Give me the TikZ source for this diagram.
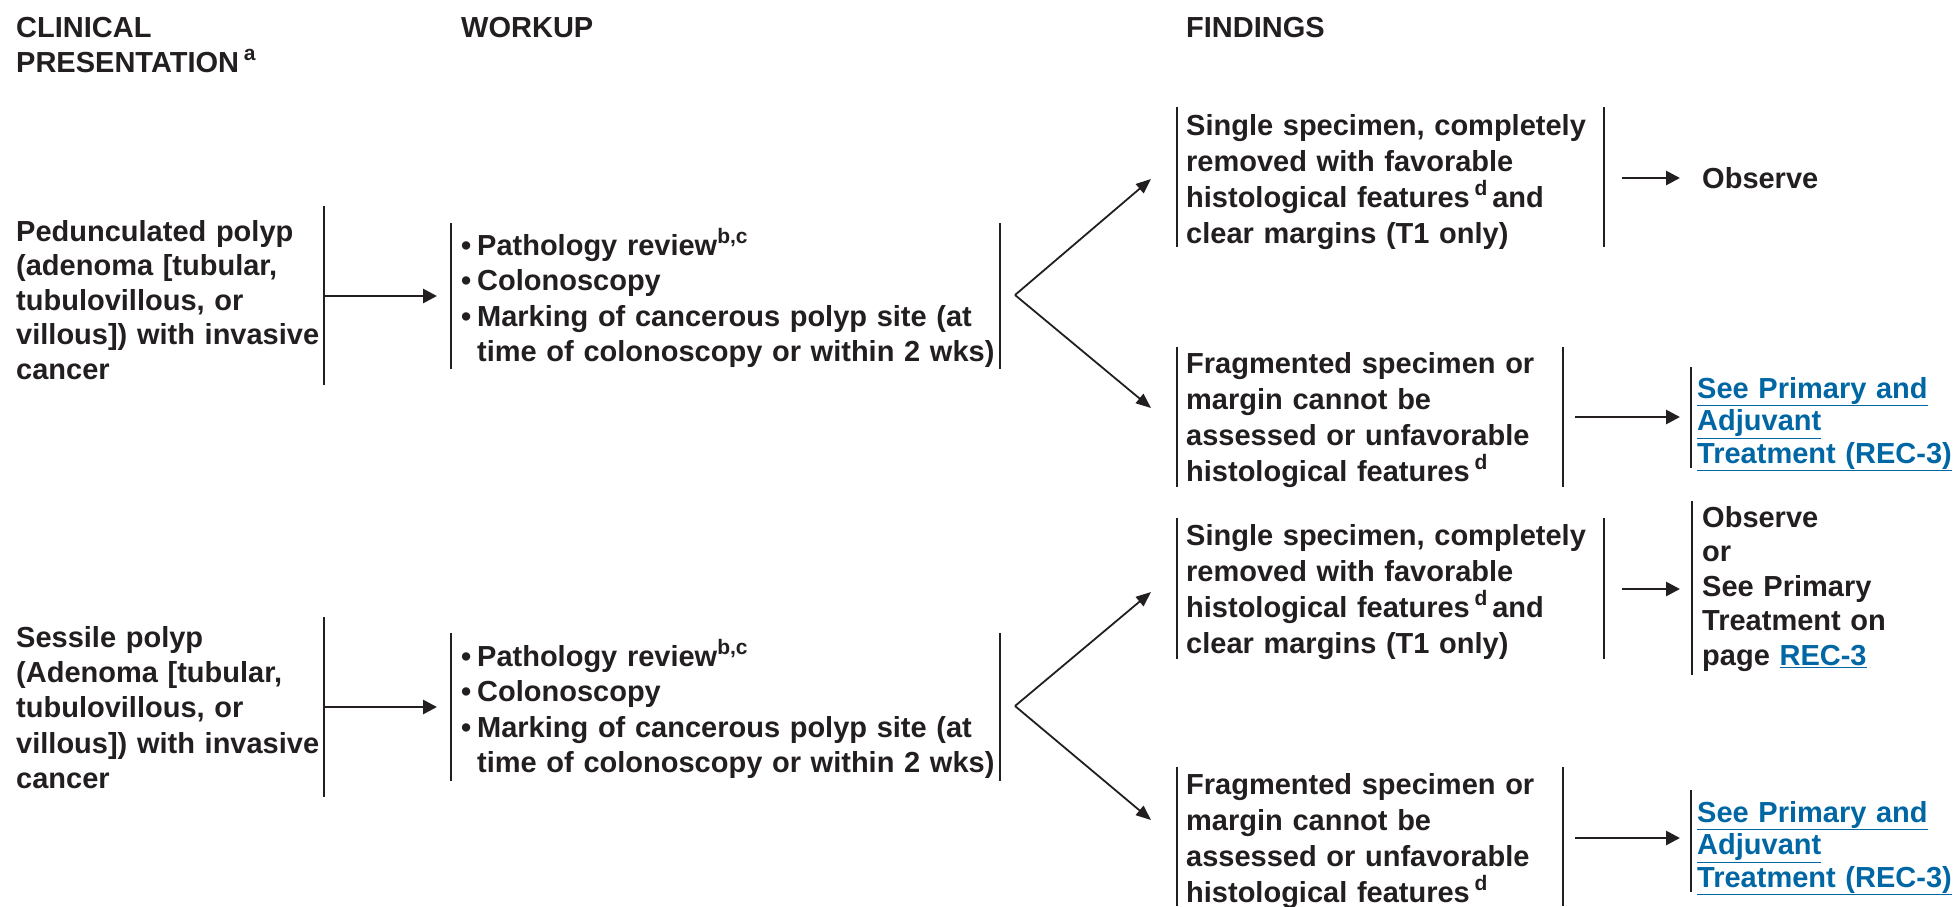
\documentclass[tikz,border=0pt]{standalone}
\usepackage{fontspec}
\setmainfont{Liberation Sans}
\usetikzlibrary{arrows.meta}
\definecolor{nccnblack}{RGB}{35,31,32}
\definecolor{nccnblue}{RGB}{0,102,164}
\newcommand\lnk[1]{\textcolor{nccnblue}{\underline{#1}}}
\newcommand\itm{\makebox[16pt][l]{\textbullet}}
\newcommand\fnote[1]{\raisebox{12pt}{\fontsize{21}{21}\selectfont #1}}
\newcommand\tstrut{\rule{0pt}{25pt}}
\tikzset{
	txt/.style={anchor=north west, inner sep=0pt, align=left, text width=560pt,
		font=\fontsize{29}{#1}\selectfont\bfseries, text=nccnblack, execute at begin node=\tstrut},
	txt/.default=36,
	bar/.style={line width=2pt, nccnblack},
	arr/.style={line width=2.8pt, nccnblack, -{Triangle[length=14pt,width=14pt]}},
	branch/.style={line width=1.8pt, nccnblack, -{Triangle[length=15pt,width=12pt]}}
}

\begin{document}
\begin{tikzpicture}[x=1pt, y=-1pt]
		%%%%% START %%%%%
		\useasboundingbox (0, 0) rectangle (1957, 906);
		
		\node[txt=35] (hdrclin) at (16, 12) {CLINICAL\\PRESENTATION\,\fnote{a}};
		\node[txt] (hdrwork) at (461, 12) {WORKUP};
		\node[txt] (hdrfind) at (1186, 12) {FINDINGS};
		
		% pedunculated polyp
		\node[txt=34.5] (pedpres) at (16, 216) {Pedunculated polyp\\(adenoma [tubular,\\tubulovillous, or\\villous]) with invasive\\cancer};
		\draw[bar] (324, 206) -- (324, 385);
		\coordinate (pedout) at (324, 296);
		\coordinate (pedin) at (437, 296);
		\draw[arr] (pedout) -- (pedin);
		
		\draw[bar] (451, 223) -- (451, 369);
		\node[txt=35.5] (pedwork) at (461, 228) {\itm Pathology review\fnote{b,c}\\\itm Colonoscopy\\\itm Marking of cancerous polyp site (at\\\hspace*{16pt}time of colonoscopy or within 2 wks)};
		\draw[bar] (1000, 223) -- (1000, 369);
		
		\coordinate (pedfork) at (1015, 295);
		\coordinate (pedtipA) at (1151, 179);
		\coordinate (pedtipB) at (1151, 408);
		\draw[branch] (pedfork) -- (pedtipA);
		\draw[branch] (pedfork) -- (pedtipB);
		
		\draw[bar] (1177, 107) -- (1177, 247);
		\node[txt] (pedfindA) at (1186, 110) {Single specimen, completely\\removed with favorable\\histological features\,\fnote{d}\,and\\clear margins (T1 only)};
		\draw[bar] (1604, 107) -- (1604, 247);
		\coordinate (pedoutA) at (1622, 178);
		\coordinate (pedinA) at (1680, 178);
		\draw[arr] (pedoutA) -- (pedinA);
		\node[txt] (pedobs) at (1702, 163) {Observe};
		
		\draw[bar] (1177, 347) -- (1177, 487);
		\node[txt] (pedfindB) at (1186, 348) {Fragmented specimen or\\margin cannot be\\assessed or unfavorable\\histological features\,\fnote{d}};
		\draw[bar] (1563, 347) -- (1563, 487);
		\coordinate (pedoutB) at (1575, 417);
		\coordinate (pedinB) at (1680, 417);
		\draw[arr] (pedoutB) -- (pedinB);
		\draw[bar] (1691, 367) -- (1691, 468);
		\node[txt=32.5] (pedlink) at (1697, 373) {\lnk{See Primary and}\\\lnk{Adjuvant}\\\lnk{Treatment (REC-3)}};
		
		% sessile polyp
		\node[txt=35.3] (sesspres) at (16, 622) {Sessile polyp\\(Adenoma [tubular,\\tubulovillous, or\\villous]) with invasive\\cancer};
		\draw[bar] (324, 617) -- (324, 797);
		\coordinate (sessout) at (324, 707);
		\coordinate (sessin) at (437, 707);
		\draw[arr] (sessout) -- (sessin);
		
		\draw[bar] (451, 633) -- (451, 781);
		\node[txt=35.5] (sesswork) at (461, 639) {\itm Pathology review\fnote{b,c}\\\itm Colonoscopy\\\itm Marking of cancerous polyp site (at\\\hspace*{16pt}time of colonoscopy or within 2 wks)};
		\draw[bar] (1000, 633) -- (1000, 781);
		
		\coordinate (sessfork) at (1015, 706);
		\coordinate (sesstipA) at (1151, 592);
		\coordinate (sesstipB) at (1151, 820);
		\draw[branch] (sessfork) -- (sesstipA);
		\draw[branch] (sessfork) -- (sesstipB);
		
		\draw[bar] (1177, 518) -- (1177, 659);
		\node[txt] (sessfindA) at (1186, 520) {Single specimen, completely\\removed with favorable\\histological features\,\fnote{d}\,and\\clear margins (T1 only)};
		\draw[bar] (1604, 518) -- (1604, 659);
		\coordinate (sessoutA) at (1622, 589);
		\coordinate (sessinA) at (1680, 589);
		\draw[arr] (sessoutA) -- (sessinA);
		\draw[bar] (1692, 501) -- (1692, 675);
		\node[txt=34.5] (sessobs) at (1702, 502) {Observe\\or\\See Primary\\Treatment on\\page \lnk{REC-3}};
		
		\draw[bar] (1177, 767) -- (1177, 906);
		\node[txt] (sessfindB) at (1186, 769) {Fragmented specimen or\\margin cannot be\\assessed or unfavorable\\histological features\,\fnote{d}};
		\draw[bar] (1563, 767) -- (1563, 906);
		\coordinate (sessoutB) at (1575, 838);
		\coordinate (sessinB) at (1680, 838);
		\draw[arr] (sessoutB) -- (sessinB);
		\draw[bar] (1691, 790) -- (1691, 892);
		\node[txt=32.5] (sesslink) at (1697, 797) {\lnk{See Primary and}\\\lnk{Adjuvant}\\\lnk{Treatment (REC-3)}};
		
		%%%%% END %%%%%
\end{tikzpicture}
\end{document}
